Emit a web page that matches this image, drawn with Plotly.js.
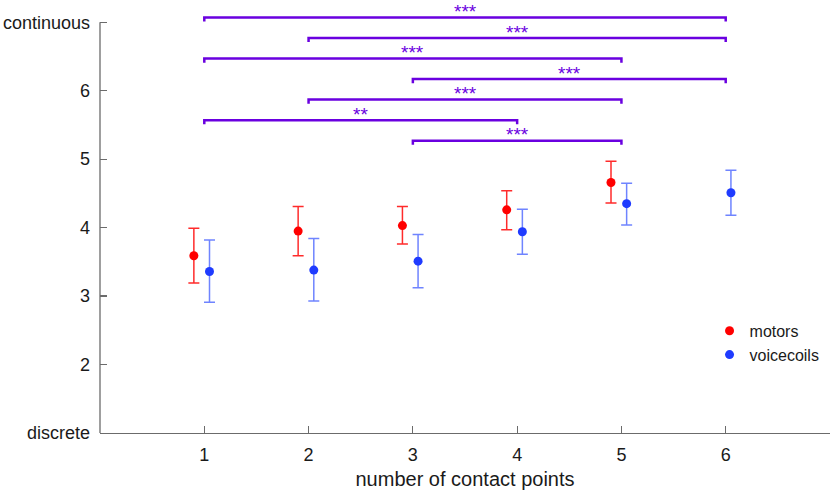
<!DOCTYPE html>
<html>
<head>
<meta charset="utf-8">
<script src="https://cdn.plot.ly/plotly-3.0.1.min.js"></script>
<style>
  html, body { margin: 0; padding: 0; background: #fff; }
  #chart { width: 830px; height: 497px; }
</style>
</head>
<body>
<div id="chart"></div>
<script>
  // number of contact points
  const contacts = [1, 2, 3, 4, 5, 6];

  // motors (no 6-point condition)
  const motorContacts = [1, 2, 3, 4, 5];
  const motorMean  = [3.59, 3.95, 4.03, 4.26, 4.66];
  const motorUpper = [3.99, 4.31, 4.31, 4.54, 4.97];
  const motorLower = [3.19, 3.59, 3.76, 3.97, 4.36];

  // voicecoils
  const coilContacts = [1, 2, 3, 4, 5, 6];
  const coilMean  = [3.36, 3.38, 3.51, 3.94, 4.35, 4.51];
  const coilUpper = [3.82, 3.84, 3.90, 4.27, 4.65, 4.84];
  const coilLower = [2.91, 2.93, 3.12, 3.61, 4.04, 4.18];

  // y tick labels
  const yTickVals = [1, 2, 3, 4, 5, 6, 7];
  const yTickText = ['discrete', '2', '3', '4', '5', '6', 'continuous'];

  // significance brackets
  const bracketFrom  = [1, 2, 1, 3, 2, 1, 3];
  const bracketTo    = [6, 6, 5, 6, 5, 4, 5];
  const bracketLevel = [7.07, 6.77, 6.47, 6.17, 5.87, 5.57, 5.27];
  const bracketLabel = ['***', '***', '***', '***', '***', '**', '***'];

  const motorOffset = -0.1;
  const coilOffset = 0.05;
  const yMin = 1, yMax = 7, yTop = 7.15;
  const purple = '#6a00e0';
  const axisGrey = '#6b6b6b';
  const legLen = 0.06;

  function diff(a, b) {
    let out = [];
    for (let i = 0; i < a.length; i++) { out.push(+(a[i] - b[i]).toFixed(3)); }
    return out;
  }

  var motors = {
    x: motorContacts.map(c => c + motorOffset),
    y: motorMean,
    name: 'motors',
    type: 'scatter',
    mode: 'markers',
    marker: {color: '#ff0000', size: 9},
    error_y: {
      type: 'data', symmetric: false,
      array: diff(motorUpper, motorMean),
      arrayminus: diff(motorMean, motorLower),
      color: 'rgba(255,20,20,0.9)', thickness: 1.5, width: 5.5
    }
  };

  var coils = {
    x: coilContacts.map(c => c + coilOffset),
    y: coilMean,
    name: 'voicecoils',
    type: 'scatter',
    mode: 'markers',
    marker: {color: '#1f3bff', size: 9},
    error_y: {
      type: 'data', symmetric: false,
      array: diff(coilUpper, coilMean),
      arrayminus: diff(coilMean, coilLower),
      color: 'rgba(50,80,255,0.7)', thickness: 1.5, width: 5.5
    }
  };

  var shapes = [];
  var annotations = [];

  // left axis line, only from discrete to continuous
  shapes.push({
    type: 'line', xref: 'paper', yref: 'paper',
    x0: 0, x1: 0, y0: 0, y1: (yMax - yMin) / (yTop - yMin),
    line: {color: axisGrey, width: 1.3}
  });

  for (let i = 0; i < bracketFrom.length; i++) {
    let a = bracketFrom[i], b = bracketTo[i], h = bracketLevel[i];
    shapes.push({
      type: 'path', xref: 'x', yref: 'y',
      path: 'M ' + a + ',' + (h - legLen) + ' L ' + a + ',' + h +
            ' L ' + b + ',' + h + ' L ' + b + ',' + (h - legLen),
      line: {color: purple, width: 2.5}
    });
    // stars sit just above the bracket
    annotations.push({
      x: (a + b) / 2, y: h, xref: 'x', yref: 'y',
      text: bracketLabel[i], showarrow: false,
      yanchor: 'middle', valign: 'middle', height: 14, borderpad: 0,
      yshift: 6.5,
      font: {family: 'Liberation Sans, Arial, sans-serif', size: 19, color: purple}
    });
  }

  var layout = {
    width: 830,
    height: 497,
    margin: {l: 100, r: 0, t: 12, b: 64},
    paper_bgcolor: '#ffffff',
    plot_bgcolor: '#ffffff',
    font: {family: 'Liberation Sans, Arial, sans-serif', size: 18, color: '#1a1a1a'},
    showlegend: true,
    legend: {
      x: 0.835, y: 0.283, xanchor: 'left', yanchor: 'top',
      bgcolor: 'rgba(0,0,0,0)',
      font: {size: 16, color: '#1a1a1a'},
      tracegroupgap: 0
    },
    xaxis: {
      range: [0, 7],
      tickvals: contacts,
      ticks: 'inside', ticklen: 7, tickcolor: axisGrey, tickwidth: 1.2,
      showline: true, linecolor: axisGrey, linewidth: 1.3,
      showgrid: false, zeroline: false,
      ticklabelstandoff: 5,
      title: {text: 'number of contact points', font: {size: 20}, standoff: 8}
    },
    yaxis: {
      range: [yMin, yTop],
      tickvals: yTickVals,
      ticktext: yTickText,
      ticks: 'inside', ticklen: 7, tickcolor: axisGrey, tickwidth: 1.2,
      showline: false,
      showgrid: false, zeroline: false,
      ticklabelstandoff: 9
    },
    shapes: shapes,
    annotations: annotations
  };

  Plotly.newPlot('chart', [motors, coils], layout, {displayModeBar: false, staticPlot: true});
</script>
</body>
</html>
